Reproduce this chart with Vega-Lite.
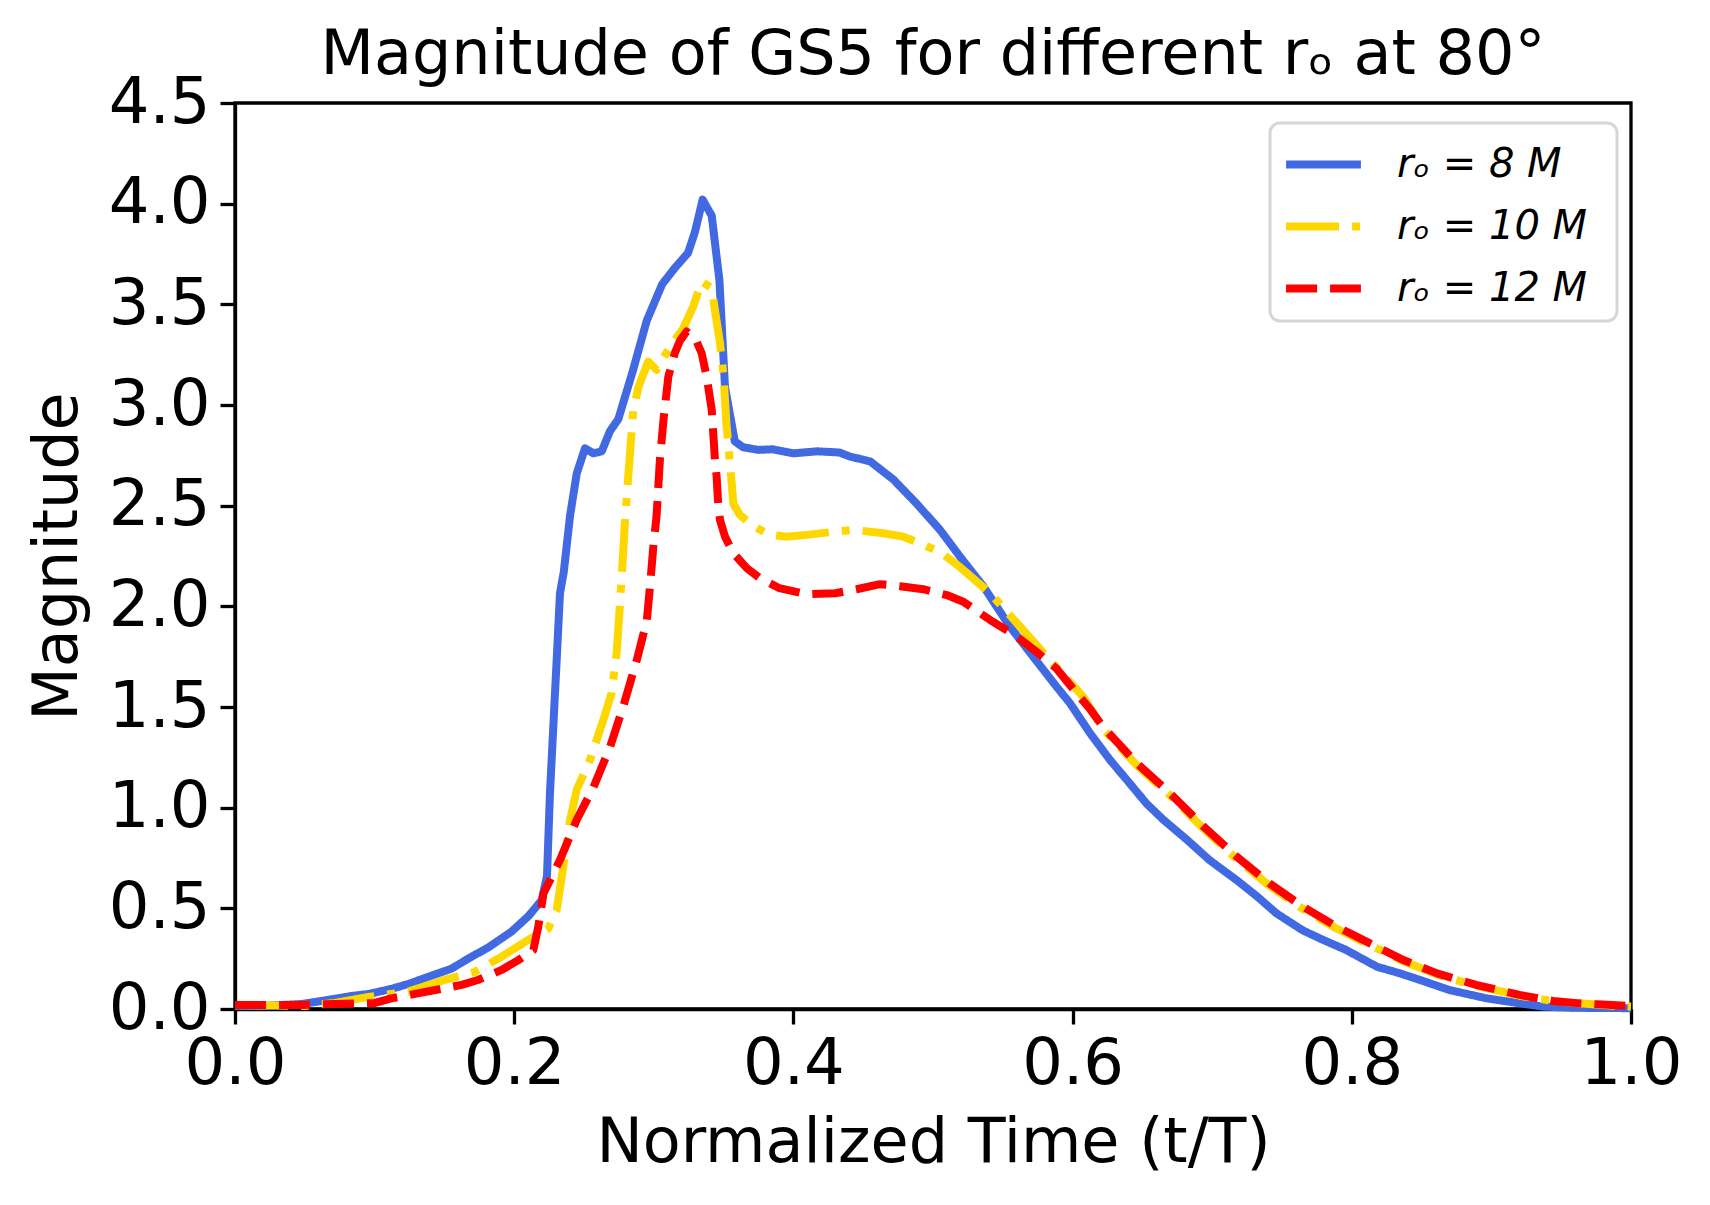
{
  "$schema": "https://vega.github.io/schema/vega-lite/v6.json",
  "width": 1396,
  "height": 906,
  "autosize": {"type": "none"},
  "padding": {"left": 235, "top": 103, "right": 79, "bottom": 196},
  "background": "white",
  "title": {
    "text": "Magnitude of GS5 for different rₒ at 80°",
    "fontSize": 62,
    "fontWeight": "normal",
    "font": "DejaVu Sans",
    "color": "black",
    "offset": -16
  },
  "datasets": {
    "r8": [
      {"t": 0.0, "m": 0.015}, {"t": 0.02, "m": 0.015}, {"t": 0.048, "m": 0.025}, {"t": 0.062, "m": 0.04},
      {"t": 0.084, "m": 0.065}, {"t": 0.096, "m": 0.075}, {"t": 0.112, "m": 0.1}, {"t": 0.124, "m": 0.124},
      {"t": 0.1385, "m": 0.16}, {"t": 0.155, "m": 0.2}, {"t": 0.167, "m": 0.25}, {"t": 0.1815, "m": 0.306},
      {"t": 0.198, "m": 0.384}, {"t": 0.21, "m": 0.46}, {"t": 0.2197, "m": 0.54}, {"t": 0.2235, "m": 0.66},
      {"t": 0.2256, "m": 1.07}, {"t": 0.228, "m": 1.4}, {"t": 0.2304, "m": 1.73}, {"t": 0.2328, "m": 2.065},
      {"t": 0.2355, "m": 2.17}, {"t": 0.24, "m": 2.45}, {"t": 0.2448, "m": 2.66}, {"t": 0.2507, "m": 2.785},
      {"t": 0.2567, "m": 2.76}, {"t": 0.2627, "m": 2.77}, {"t": 0.2686, "m": 2.87}, {"t": 0.2746, "m": 2.93},
      {"t": 0.285, "m": 3.17}, {"t": 0.295, "m": 3.42}, {"t": 0.306, "m": 3.6}, {"t": 0.315, "m": 3.68},
      {"t": 0.3245, "m": 3.755}, {"t": 0.3295, "m": 3.86}, {"t": 0.335, "m": 4.02}, {"t": 0.3415, "m": 3.94},
      {"t": 0.347, "m": 3.62}, {"t": 0.351, "m": 3.09}, {"t": 0.358, "m": 2.82}, {"t": 0.364, "m": 2.79},
      {"t": 0.375, "m": 2.777}, {"t": 0.385, "m": 2.78}, {"t": 0.4, "m": 2.76}, {"t": 0.417, "m": 2.77},
      {"t": 0.433, "m": 2.764}, {"t": 0.4405, "m": 2.744}, {"t": 0.455, "m": 2.72}, {"t": 0.4716, "m": 2.63},
      {"t": 0.4883, "m": 2.51}, {"t": 0.505, "m": 2.38}, {"t": 0.519, "m": 2.25}, {"t": 0.536, "m": 2.1},
      {"t": 0.555, "m": 1.9}, {"t": 0.574, "m": 1.73}, {"t": 0.5886, "m": 1.6}, {"t": 0.598, "m": 1.52},
      {"t": 0.6125, "m": 1.37}, {"t": 0.6268, "m": 1.237}, {"t": 0.641, "m": 1.12}, {"t": 0.653, "m": 1.02},
      {"t": 0.665, "m": 0.94}, {"t": 0.682, "m": 0.84}, {"t": 0.698, "m": 0.74}, {"t": 0.7175, "m": 0.64},
      {"t": 0.732, "m": 0.56}, {"t": 0.746, "m": 0.475}, {"t": 0.765, "m": 0.39}, {"t": 0.7795, "m": 0.343},
      {"t": 0.796, "m": 0.293}, {"t": 0.818, "m": 0.21}, {"t": 0.8345, "m": 0.177}, {"t": 0.849, "m": 0.144},
      {"t": 0.87, "m": 0.094}, {"t": 0.8966, "m": 0.053}, {"t": 0.9205, "m": 0.028}, {"t": 0.937, "m": 0.012},
      {"t": 0.96, "m": 0.006}, {"t": 1.0, "m": 0.004}
    ],
    "r10": [
      {"t": 0.0, "m": 0.02}, {"t": 0.05, "m": 0.015}, {"t": 0.0716, "m": 0.03}, {"t": 0.0955, "m": 0.06},
      {"t": 0.124, "m": 0.086}, {"t": 0.153, "m": 0.15}, {"t": 0.172, "m": 0.185}, {"t": 0.191, "m": 0.26},
      {"t": 0.21, "m": 0.343}, {"t": 0.2244, "m": 0.4}, {"t": 0.2304, "m": 0.49}, {"t": 0.235, "m": 0.7},
      {"t": 0.24, "m": 0.94}, {"t": 0.2448, "m": 1.09}, {"t": 0.2543, "m": 1.237}, {"t": 0.2638, "m": 1.435},
      {"t": 0.2698, "m": 1.57}, {"t": 0.2734, "m": 1.77}, {"t": 0.2758, "m": 2.015}, {"t": 0.278, "m": 2.26},
      {"t": 0.2794, "m": 2.43}, {"t": 0.2817, "m": 2.645}, {"t": 0.2853, "m": 2.975}, {"t": 0.289, "m": 3.09},
      {"t": 0.296, "m": 3.216}, {"t": 0.302, "m": 3.174}, {"t": 0.3116, "m": 3.29}, {"t": 0.321, "m": 3.38},
      {"t": 0.3283, "m": 3.49}, {"t": 0.3343, "m": 3.613}, {"t": 0.3415, "m": 3.58}, {"t": 0.3438, "m": 3.47},
      {"t": 0.3474, "m": 3.31}, {"t": 0.35, "m": 3.14}, {"t": 0.352, "m": 2.91}, {"t": 0.3546, "m": 2.71},
      {"t": 0.357, "m": 2.51}, {"t": 0.3617, "m": 2.454}, {"t": 0.371, "m": 2.4}, {"t": 0.383, "m": 2.355},
      {"t": 0.395, "m": 2.346}, {"t": 0.4095, "m": 2.355}, {"t": 0.4286, "m": 2.37}, {"t": 0.443, "m": 2.38},
      {"t": 0.4644, "m": 2.363}, {"t": 0.4787, "m": 2.346}, {"t": 0.4907, "m": 2.313}, {"t": 0.505, "m": 2.27},
      {"t": 0.519, "m": 2.197}, {"t": 0.541, "m": 2.065}, {"t": 0.5623, "m": 1.9}, {"t": 0.5815, "m": 1.75},
      {"t": 0.6077, "m": 1.55}, {"t": 0.622, "m": 1.39}, {"t": 0.646, "m": 1.21}, {"t": 0.67, "m": 1.06},
      {"t": 0.694, "m": 0.895}, {"t": 0.7175, "m": 0.745}, {"t": 0.741, "m": 0.612}, {"t": 0.765, "m": 0.497},
      {"t": 0.789, "m": 0.4}, {"t": 0.813, "m": 0.318}, {"t": 0.837, "m": 0.237}, {"t": 0.861, "m": 0.172},
      {"t": 0.889, "m": 0.115}, {"t": 0.92, "m": 0.066}, {"t": 0.944, "m": 0.04}, {"t": 0.963, "m": 0.028},
      {"t": 0.98, "m": 0.02}, {"t": 1.0, "m": 0.012}
    ],
    "r12": [
      {"t": 0.0, "m": 0.02}, {"t": 0.048, "m": 0.02}, {"t": 0.0716, "m": 0.025}, {"t": 0.1003, "m": 0.03},
      {"t": 0.112, "m": 0.053}, {"t": 0.1337, "m": 0.081}, {"t": 0.1624, "m": 0.12}, {"t": 0.174, "m": 0.144},
      {"t": 0.191, "m": 0.194}, {"t": 0.203, "m": 0.243}, {"t": 0.2137, "m": 0.293}, {"t": 0.2173, "m": 0.41},
      {"t": 0.221, "m": 0.575}, {"t": 0.2328, "m": 0.74}, {"t": 0.2448, "m": 0.94}, {"t": 0.2567, "m": 1.1},
      {"t": 0.2686, "m": 1.3}, {"t": 0.278, "m": 1.5}, {"t": 0.2877, "m": 1.73}, {"t": 0.295, "m": 1.93},
      {"t": 0.2973, "m": 2.1}, {"t": 0.2997, "m": 2.3}, {"t": 0.302, "m": 2.45}, {"t": 0.3044, "m": 2.73},
      {"t": 0.307, "m": 2.93}, {"t": 0.3104, "m": 3.14}, {"t": 0.315, "m": 3.257}, {"t": 0.3188, "m": 3.32},
      {"t": 0.3235, "m": 3.365}, {"t": 0.3307, "m": 3.315}, {"t": 0.3343, "m": 3.257}, {"t": 0.3379, "m": 3.14},
      {"t": 0.3415, "m": 2.976}, {"t": 0.3438, "m": 2.73}, {"t": 0.345, "m": 2.645}, {"t": 0.3462, "m": 2.5},
      {"t": 0.3474, "m": 2.43}, {"t": 0.351, "m": 2.346}, {"t": 0.357, "m": 2.264}, {"t": 0.3666, "m": 2.19},
      {"t": 0.376, "m": 2.14}, {"t": 0.39, "m": 2.09}, {"t": 0.41, "m": 2.06}, {"t": 0.43, "m": 2.065},
      {"t": 0.4453, "m": 2.085}, {"t": 0.462, "m": 2.11}, {"t": 0.4764, "m": 2.1}, {"t": 0.493, "m": 2.085},
      {"t": 0.5098, "m": 2.056}, {"t": 0.5217, "m": 2.023}, {"t": 0.541, "m": 1.932}, {"t": 0.56, "m": 1.85},
      {"t": 0.574, "m": 1.775}, {"t": 0.5886, "m": 1.69}, {"t": 0.598, "m": 1.61}, {"t": 0.6125, "m": 1.49},
      {"t": 0.622, "m": 1.4}, {"t": 0.646, "m": 1.22}, {"t": 0.67, "m": 1.07}, {"t": 0.694, "m": 0.905},
      {"t": 0.7175, "m": 0.757}, {"t": 0.741, "m": 0.624}, {"t": 0.765, "m": 0.508}, {"t": 0.789, "m": 0.41},
      {"t": 0.813, "m": 0.326}, {"t": 0.837, "m": 0.243}, {"t": 0.861, "m": 0.177}, {"t": 0.889, "m": 0.12},
      {"t": 0.92, "m": 0.07}, {"t": 0.944, "m": 0.04}, {"t": 0.963, "m": 0.028}, {"t": 0.98, "m": 0.022},
      {"t": 1.0, "m": 0.015}
    ]
  },
  "layer": [
    {
      "data": {"name": "r8"},
      "transform": [{"calculate": "'rₒ = 8 M'", "as": "series"}],
      "mark": {"type": "line", "strokeWidth": 8, "strokeCap": "butt", "strokeJoin": "round"},
      "encoding": {
        "x": {"field": "t", "type": "quantitative"},
        "y": {"field": "m", "type": "quantitative"},
        "color": {"field": "series", "type": "nominal"},
        "strokeDash": {"field": "series", "type": "nominal"}
      }
    },
    {
      "data": {"name": "r10"},
      "transform": [{"calculate": "'rₒ = 10 M'", "as": "series"}],
      "mark": {"type": "line", "strokeWidth": 8, "strokeCap": "butt", "strokeJoin": "round"},
      "encoding": {
        "x": {"field": "t", "type": "quantitative"},
        "y": {"field": "m", "type": "quantitative"},
        "color": {"field": "series", "type": "nominal"},
        "strokeDash": {"field": "series", "type": "nominal"}
      }
    },
    {
      "data": {"name": "r12"},
      "transform": [{"calculate": "'rₒ = 12 M'", "as": "series"}],
      "mark": {"type": "line", "strokeWidth": 8, "strokeCap": "butt", "strokeJoin": "round"},
      "encoding": {
        "x": {
          "field": "t", "type": "quantitative",
          "title": "Normalized Time (t/T)",
          "scale": {"domain": [0, 1], "nice": false, "zero": false},
          "axis": {"values": [0, 0.2, 0.4, 0.6, 0.8, 1.0], "format": ".1f", "labelPadding": 8, "titlePadding": 16}
        },
        "y": {
          "field": "m", "type": "quantitative",
          "title": "Magnitude",
          "scale": {"domain": [0, 4.5], "nice": false},
          "axis": {"values": [0, 0.5, 1, 1.5, 2, 2.5, 3, 3.5, 4, 4.5], "format": ".1f", "labelPadding": 10, "titlePadding": 19}
        },
        "color": {
          "field": "series", "type": "nominal",
          "scale": {"domain": ["rₒ = 8 M", "rₒ = 10 M", "rₒ = 12 M"], "range": ["#4169E1", "#FFD700", "#FF0000"]},
          "legend": {"title": "\u2003", "labelExpr": "datum.label + '\u2800'"}
        },
        "strokeDash": {
          "field": "series", "type": "nominal",
          "scale": {"domain": ["rₒ = 8 M", "rₒ = 10 M", "rₒ = 12 M"], "range": [[1, 0], [53, 13, 8, 13], [31, 13]]},
          "legend": {"title": "\u2003", "labelExpr": "datum.label + '\u2800'"}
        }
      }
    }
  ],
  "config": {
    "font": "DejaVu Sans",
    "view": {"stroke": "black", "strokeWidth": 3.3},
    "axis": {
      "grid": false,
      "domainColor": "black",
      "domainWidth": 3.3,
      "tickColor": "black",
      "tickWidth": 3.3,
      "tickSize": 15,
      "labelFontSize": 64,
      "labelColor": "black",
      "labelFont": "DejaVu Sans",
      "titleFontSize": 62,
      "titleFontWeight": "normal",
      "titleColor": "black",
      "titleFont": "DejaVu Sans",
      "labelFlush": false,
      "labelOverlap": false
    },
    "legend": {
      "orient": "none",
      "legendX": 1035,
      "legendY": 20,
      "strokeColor": "#d6d6d6",
      "strokeWidth": 3,
      "fillColor": "white",
      "cornerRadius": 10,
      "padding": 0,
      "titleOrient": "bottom",
      "titleFontSize": 10,
      "titlePadding": 2,
      "labelFontSize": 40,
      "labelFont": "DejaVu Sans",
      "labelFontStyle": "italic",
      "labelColor": "black",
      "labelLimit": 500,
      "labelOffset": 32,
      "symbolType": "stroke",
      "symbolSize": 5600,
      "symbolOffset": 12,
      "symbolStrokeWidth": 8,
      "rowPadding": -11
    }
  }
}
